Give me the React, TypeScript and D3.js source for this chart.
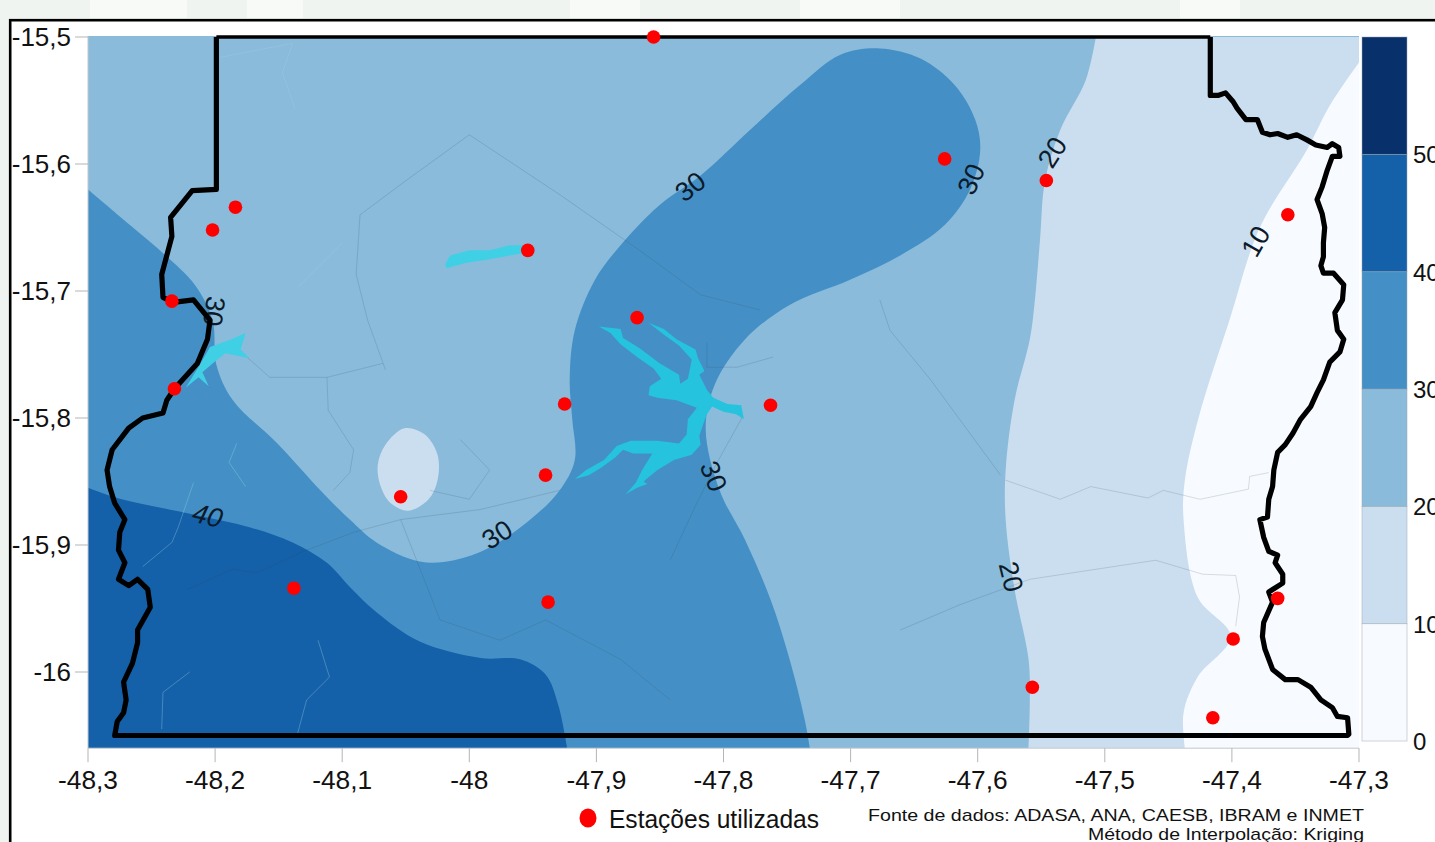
import React from "react";
import * as d3 from "d3";

type P = [number, number];

const xTicks = [-48.3, -48.2, -48.1, -48, -47.9, -47.8, -47.7, -47.6, -47.5, -47.4, -47.3];
const yTicks = [-15.5, -15.6, -15.7, -15.8, -15.9, -16];
const legendBreaks = [0, 10, 20, 30, 40, 50, 60];
const legendColors = ["#f7fbff", "#cbdef0", "#8abbda", "#4490c6", "#1460a9", "#08306b"];

const stations: P[] = [
  [-47.855, -15.5], [-47.626, -15.596], [-47.546, -15.613], [-47.356, -15.64], [-48.184, -15.634],
  [-48.202, -15.652], [-47.954, -15.668], [-48.234, -15.708], [-47.868, -15.721], [-48.232, -15.777],
  [-47.925, -15.789], [-47.763, -15.79], [-47.94, -15.845], [-48.054, -15.862], [-48.138, -15.934],
  [-47.938, -15.945], [-47.364, -15.942], [-47.399, -15.974], [-47.557, -16.012], [-47.415, -16.036],
];

const contour30: P[] = [
  [-48.3, -15.62], [-48.267, -15.648], [-48.239, -15.672], [-48.216, -15.695], [-48.202, -15.723],
  [-48.199, -15.758], [-48.186, -15.786], [-48.151, -15.82], [-48.117, -15.857], [-48.094, -15.88],
  [-48.073, -15.898], [-48.039, -15.913], [-48.012, -15.912], [-47.984, -15.902], [-47.952, -15.88],
  [-47.929, -15.857], [-47.917, -15.833], [-47.919, -15.801], [-47.921, -15.77], [-47.917, -15.731],
  [-47.901, -15.691], [-47.881, -15.664], [-47.85, -15.632], [-47.818, -15.609], [-47.779, -15.573],
  [-47.74, -15.538], [-47.708, -15.514], [-47.677, -15.509], [-47.645, -15.517], [-47.618, -15.538],
  [-47.602, -15.565], [-47.598, -15.589], [-47.606, -15.62], [-47.626, -15.648], [-47.661, -15.672],
  [-47.7, -15.691], [-47.748, -15.711], [-47.783, -15.738], [-47.807, -15.774], [-47.814, -15.809],
  [-47.803, -15.857], [-47.783, -15.896], [-47.763, -15.943], [-47.748, -15.99], [-47.736, -16.038],
  [-47.732, -16.06],
];

const contour40: P[] = [
  [-48.3, -15.855], [-48.277, -15.863], [-48.217, -15.876], [-48.173, -15.886], [-48.139, -15.898],
  [-48.112, -15.914], [-48.094, -15.933], [-48.073, -15.953], [-48.039, -15.976], [-47.991, -15.989],
  [-47.96, -15.99], [-47.94, -16.002], [-47.93, -16.026], [-47.923, -16.06],
];

const contour20: P[] = [
  [-47.507, -15.5], [-47.515, -15.534], [-47.535, -15.573], [-47.547, -15.613], [-47.551, -15.66],
  [-47.555, -15.707], [-47.559, -15.738], [-47.571, -15.786], [-47.578, -15.841], [-47.578, -15.88],
  [-47.571, -15.935], [-47.56, -15.99], [-47.559, -16.022], [-47.56, -16.06],
];

const contour10: P[] = [
  [-47.3, -15.52], [-47.323, -15.554], [-47.341, -15.589], [-47.378, -15.65], [-47.401, -15.72],
  [-47.426, -15.799], [-47.437, -15.849], [-47.438, -15.88], [-47.427, -15.941], [-47.401, -15.972],
  [-47.427, -16.004], [-47.438, -16.032], [-47.437, -16.06],
];

const islandContour: P[] = [
  [-48.051, -15.808], [-48.035, -15.813], [-48.025, -15.829], [-48.025, -15.849], [-48.032, -15.864],
  [-48.048, -15.873], [-48.062, -15.867], [-48.07, -15.853], [-48.072, -15.837], [-48.066, -15.821],
];

const borderTop: P[] = [[-48.199, -15.5], [-47.417, -15.5]];

const border: P[] = [
  [-47.417, -15.5], [-47.417, -15.546], [-47.411, -15.546], [-47.405, -15.544],
  [-47.399, -15.551], [-47.396, -15.556], [-47.389, -15.565], [-47.38, -15.565], [-47.376, -15.575],
  [-47.37, -15.577], [-47.364, -15.576], [-47.356, -15.579], [-47.349, -15.577], [-47.341, -15.581],
  [-47.334, -15.585], [-47.325, -15.587], [-47.321, -15.584], [-47.316, -15.587], [-47.315, -15.594],
  [-47.321, -15.594], [-47.325, -15.605], [-47.329, -15.618], [-47.333, -15.628], [-47.329, -15.639],
  [-47.327, -15.65], [-47.328, -15.662], [-47.328, -15.673], [-47.33, -15.68], [-47.328, -15.686],
  [-47.32, -15.686], [-47.312, -15.695], [-47.313, -15.707], [-47.319, -15.717], [-47.317, -15.731],
  [-47.312, -15.738], [-47.315, -15.748], [-47.323, -15.756], [-47.328, -15.77], [-47.333, -15.78],
  [-47.338, -15.791], [-47.346, -15.801], [-47.352, -15.812], [-47.358, -15.821], [-47.364, -15.827],
  [-47.367, -15.841], [-47.368, -15.854], [-47.371, -15.864], [-47.372, -15.878], [-47.378, -15.88],
  [-47.375, -15.894], [-47.371, -15.905], [-47.364, -15.908], [-47.366, -15.914], [-47.36, -15.923],
  [-47.36, -15.93], [-47.371, -15.937], [-47.368, -15.945], [-47.375, -15.961], [-47.376, -15.972],
  [-47.374, -15.982], [-47.368, -15.998], [-47.358, -16.006], [-47.348, -16.006], [-47.338, -16.012],
  [-47.33, -16.022], [-47.321, -16.028], [-47.317, -16.035], [-47.309, -16.036], [-47.308, -16.049],
  [-47.309, -16.05], [-48.279, -16.05], [-48.277, -16.039], [-48.272, -16.032], [-48.27, -16.022],
  [-48.272, -16.008], [-48.265, -15.993], [-48.261, -15.977], [-48.261, -15.967], [-48.251, -15.949],
  [-48.253, -15.935], [-48.261, -15.927], [-48.268, -15.932], [-48.276, -15.927], [-48.271, -15.914],
  [-48.276, -15.904], [-48.275, -15.89], [-48.271, -15.88], [-48.279, -15.867], [-48.283, -15.854],
  [-48.285, -15.841], [-48.281, -15.825], [-48.268, -15.808], [-48.257, -15.8], [-48.241, -15.796],
  [-48.238, -15.786], [-48.232, -15.777], [-48.214, -15.757], [-48.206, -15.738], [-48.204, -15.723],
  [-48.217, -15.707], [-48.233, -15.709], [-48.241, -15.705], [-48.242, -15.687], [-48.234, -15.657],
  [-48.235, -15.642], [-48.218, -15.621], [-48.199, -15.62], [-48.199, -15.5],
];

const lakeParanoa: P[] = [
  [-47.898, -15.728], [-47.881, -15.73], [-47.879, -15.737], [-47.866, -15.745], [-47.85, -15.757],
  [-47.835, -15.766], [-47.834, -15.773], [-47.828, -15.769], [-47.825, -15.754], [-47.835, -15.743],
  [-47.846, -15.735], [-47.859, -15.725], [-47.847, -15.73], [-47.837, -15.738], [-47.822, -15.746],
  [-47.82, -15.753], [-47.815, -15.763], [-47.819, -15.766], [-47.813, -15.778], [-47.808, -15.784],
  [-47.797, -15.789], [-47.786, -15.79], [-47.784, -15.801], [-47.79, -15.797], [-47.8, -15.795],
  [-47.809, -15.791], [-47.813, -15.797], [-47.816, -15.805], [-47.819, -15.814], [-47.818, -15.821],
  [-47.825, -15.829], [-47.839, -15.833], [-47.852, -15.841], [-47.863, -15.85], [-47.86, -15.852],
  [-47.868, -15.855], [-47.877, -15.86], [-47.869, -15.851], [-47.864, -15.841], [-47.856, -15.828],
  [-47.871, -15.828], [-47.879, -15.825], [-47.885, -15.831], [-47.896, -15.839], [-47.906, -15.845],
  [-47.917, -15.848], [-47.908, -15.841], [-47.894, -15.833], [-47.884, -15.822], [-47.873, -15.818],
  [-47.852, -15.818], [-47.835, -15.82], [-47.829, -15.813], [-47.828, -15.801], [-47.821, -15.792],
  [-47.837, -15.786], [-47.852, -15.784], [-47.859, -15.782], [-47.858, -15.775], [-47.849, -15.769],
  [-47.855, -15.761], [-47.868, -15.752], [-47.881, -15.742], [-47.889, -15.733],
];

const lakeNorth: P[] = [
  [-48.019, -15.679], [-48.015, -15.672], [-48.0, -15.668], [-47.984, -15.668], [-47.968, -15.664],
  [-47.956, -15.664], [-47.951, -15.669], [-47.968, -15.672], [-47.984, -15.675], [-48.003, -15.678],
  [-48.018, -15.682],
];

const lakeWest: P[] = [
  [-48.204, -15.744], [-48.187, -15.738], [-48.176, -15.733], [-48.18, -15.746], [-48.173, -15.753],
  [-48.192, -15.749], [-48.202, -15.757], [-48.21, -15.764], [-48.205, -15.775], [-48.213, -15.768],
  [-48.223, -15.776], [-48.212, -15.758],
];

const adminLines: P[][] = [
  [[-48.0, -15.577], [-48.047, -15.611], [-48.086, -15.64], [-48.089, -15.687], [-48.08, -15.723], [-48.066, -15.762]],
  [[-48.0, -15.577], [-47.929, -15.624], [-47.866, -15.668], [-47.818, -15.703], [-47.771, -15.715]],
  [[-48.175, -15.752], [-48.157, -15.768], [-48.112, -15.768], [-48.068, -15.757]],
  [[-48.112, -15.768], [-48.111, -15.794], [-48.091, -15.825], [-48.094, -15.843], [-48.107, -15.857]],
  [[-48.222, -15.935], [-48.186, -15.919], [-48.167, -15.922], [-48.133, -15.906], [-48.091, -15.89], [-48.054, -15.88], [-47.991, -15.872], [-47.929, -15.857]],
  [[-47.578, -15.849], [-47.535, -15.864], [-47.511, -15.854], [-47.466, -15.863], [-47.454, -15.857], [-47.425, -15.864], [-47.387, -15.856], [-47.386, -15.846], [-47.371, -15.843]],
  [[-47.661, -15.967], [-47.614, -15.947], [-47.559, -15.927], [-47.46, -15.912], [-47.423, -15.923], [-47.397, -15.924], [-47.394, -15.941], [-47.397, -15.964]],
  [[-47.677, -15.707], [-47.669, -15.731], [-47.637, -15.77], [-47.582, -15.845]],
  [[-48.007, -15.817], [-47.984, -15.841], [-48.0, -15.864], [-48.031, -15.857]],
  [[-48.054, -15.88], [-48.023, -15.959], [-47.976, -15.975], [-47.94, -15.959], [-47.881, -15.99], [-47.842, -16.022]],
  [[-47.813, -15.741], [-47.813, -15.76], [-47.789, -15.76], [-47.761, -15.752]],
  [[-47.785, -15.799], [-47.805, -15.835], [-47.821, -15.867], [-47.842, -15.912]],
];

const riverLines: P[][] = [
  [[-48.183, -15.82], [-48.189, -15.835], [-48.176, -15.854]],
  [[-48.217, -15.851], [-48.229, -15.886], [-48.234, -15.898], [-48.257, -15.917]],
  [[-48.119, -15.975], [-48.11, -16.004], [-48.128, -16.022], [-48.135, -16.048]],
  [[-48.22, -16.0], [-48.241, -16.016], [-48.242, -16.045]],
  [[-48.196, -15.516], [-48.139, -15.505], [-48.147, -15.528], [-48.137, -15.557]],
  [[-48.135, -15.697], [-48.1, -15.662]],
];

const contourLabels: { text: string; at: P; angle: number; italic?: boolean }[] = [
  { text: "40", at: [-48.206, -15.877], angle: 14, italic: true },
  { text: "30", at: [-47.978, -15.892], angle: -32 },
  { text: "30", at: [-47.808, -15.846], angle: 68 },
  { text: "30", at: [-47.826, -15.618], angle: -38 },
  { text: "30", at: [-47.605, -15.612], angle: -65 },
  { text: "20", at: [-47.541, -15.591], angle: -58 },
  { text: "10", at: [-47.381, -15.661], angle: -60 },
  { text: "20", at: [-47.574, -15.925], angle: 76 },
  { text: "30", at: [-48.201, -15.716], angle: 98 },
];

const pageBlocks = [
  { x: 90, w: 97 }, { x: 247, w: 56 }, { x: 570, w: 70 }, { x: 800, w: 100 }, { x: 1180, w: 60 },
];

const lonLabel = (v: number) => (Number.isInteger(v) ? String(v) : v.toFixed(1).replace(".", ","));
const latLabel = lonLabel;

const FONT = "'Liberation Sans', Arial, sans-serif";
const lonMin = -48.3, lonMax = -47.3, latBottom = -16.06, latTop = -15.5;

export default function App() {
  const x = d3.scaleLinear().domain([lonMin, lonMax]).range([88, 1359]);
  const y = d3.scaleLinear().domain([-15.5, -16]).range([37, 672]);
  const legendY = d3.scaleLinear().domain([0, 60]).range([741, 37]);

  const smooth = d3.line<P>().x((d) => x(d[0])).y((d) => y(d[1])).curve(d3.curveCatmullRom.alpha(0.5));
  const sharp = d3.line<P>().x((d) => x(d[0])).y((d) => y(d[1]));
  const blob = d3.line<P>().x((d) => x(d[0])).y((d) => y(d[1])).curve(d3.curveCatmullRomClosed.alpha(0.5));
  const pt = (lon: number, lat: number) => `L${x(lon)},${y(lat)}`;

  const x0 = x(lonMin), x1 = x(lonMax), yT = y(latTop) - 1, yB = y(latBottom);
  const mapW = x1 - x0, mapH = yB - yT;

  const region30 = smooth(contour30)! + pt(lonMin, latBottom) + "Z";
  const region40 = smooth(contour40)! + pt(lonMin, latBottom) + "Z";
  const region20 = smooth(contour20)! + pt(lonMax, latBottom) + pt(lonMax, latTop) + "Z";
  const region10 = smooth(contour10)! + pt(lonMax, latBottom) + "Z";

  return (
    <svg
      width={1435}
      height={842}
      viewBox="0 0 1435 842"
      style={{ position: "absolute", left: 0, top: 0, fontFamily: FONT }}
    >
      <defs>
        <clipPath id="map">
          <rect x={x0} y={yT} width={mapW} height={mapH} />
        </clipPath>
      </defs>
      <rect x={0} y={0} width={1435} height={842} fill="#f0f4f0" />
      {pageBlocks.map((b, i) => (
        <rect key={i} x={b.x} y={0} width={b.w} height={18} fill="#f8faf8" />
      ))}
      <rect x={10.2} y={20.2} width={1440} height={840} fill="#ffffff" stroke="#000" strokeWidth={2.6} />

      <g clipPath="url(#map)">
        <rect x={x0} y={yT} width={mapW} height={mapH} fill={legendColors[2]} />
        <path d={region30} fill={legendColors[3]} />
        <path d={region40} fill={legendColors[4]} />
        <path d={region20} fill={legendColors[1]} />
        <path d={region10} fill={legendColors[0]} />
        <path d={blob(islandContour)!} fill={legendColors[1]} />
        {riverLines.map((l, i) => (
          <path key={i} d={sharp(l)!} fill="none" stroke="#9fd0e6" strokeOpacity={0.35} strokeWidth={1} />
        ))}
        {adminLines.map((l, i) => (
          <path key={i} d={sharp(l)!} fill="none" stroke="#33475c" strokeOpacity={0.2} strokeWidth={0.9} />
        ))}
        <path d={sharp(lakeParanoa)! + "Z"} fill="#25c3de" />
        <path d={sharp(lakeNorth)! + "Z"} fill="#3fd0e6" />
        <path d={sharp(lakeWest)! + "Z"} fill="#3fd0e6" />
      </g>

      {contourLabels.map((c, i) => (
        <text
          key={i}
          transform={`translate(${x(c.at[0])},${y(c.at[1])}) rotate(${c.angle})`}
          textAnchor="middle"
          dominantBaseline="central"
          fontSize={27}
          fontStyle={c.italic ? "italic" : "normal"}
          fill="#0c1a2a"
        >
          {c.text}
        </text>
      ))}

      <path d={sharp(borderTop)!} fill="none" stroke="#000" strokeWidth={3.6} />
      <path d={sharp(border)!} fill="none" stroke="#000" strokeWidth={5.2} strokeLinejoin="round" />

      {stations.map((s, i) => (
        <circle key={i} cx={x(s[0])} cy={y(s[1])} r={6.8} fill="#ff0000" />
      ))}

      <path d={`M${x0},${yT}V${yB}H${x1}`} fill="none" stroke="#c4c8cc" strokeWidth={1} />
      {xTicks.map((t) => (
        <g key={t}>
          <line x1={x(t)} x2={x(t)} y1={yB} y2={yB + 14} stroke="#b5b5b5" strokeWidth={1} />
          <text x={x(t)} y={789} textAnchor="middle" fontSize={26.3} fill="#111">
            {lonLabel(t)}
          </text>
        </g>
      ))}
      {yTicks.map((t) => (
        <g key={t}>
          <line x1={75} x2={x0} y1={y(t)} y2={y(t)} stroke="#b5b5b5" strokeWidth={1} />
          <text x={71} y={y(t) + 9} textAnchor="end" fontSize={26} fill="#111">
            {latLabel(t)}
          </text>
        </g>
      ))}

      {legendColors.map((c, i) => (
        <rect
          key={c}
          x={1362}
          y={legendY(legendBreaks[i + 1])}
          width={45}
          height={legendY(legendBreaks[i]) - legendY(legendBreaks[i + 1])}
          fill={c}
          stroke="#9aa6b2"
          strokeOpacity={0.6}
          strokeWidth={0.8}
        />
      ))}
      {legendBreaks.slice(0, 6).map((b) => (
        <text key={b} x={1413} y={legendY(b) + 9} fontSize={24} fill="#111">
          {b}
        </text>
      ))}

      <ellipse cx={588} cy={818} rx={8.5} ry={9.5} fill="#ff0000" />
      <text x={609} y={828} fontSize={25} fill="#111" textLength={210} lengthAdjust="spacingAndGlyphs">
        Estações utilizadas
      </text>
      <text x={868} y={821} fontSize={17} fill="#111" textLength={496} lengthAdjust="spacingAndGlyphs">
        Fonte de dados: ADASA, ANA, CAESB, IBRAM e INMET
      </text>
      <text x={1088} y={840} fontSize={17} fill="#111" textLength={276} lengthAdjust="spacingAndGlyphs">
        Método de Interpolação: Kriging
      </text>
    </svg>
  );
}
